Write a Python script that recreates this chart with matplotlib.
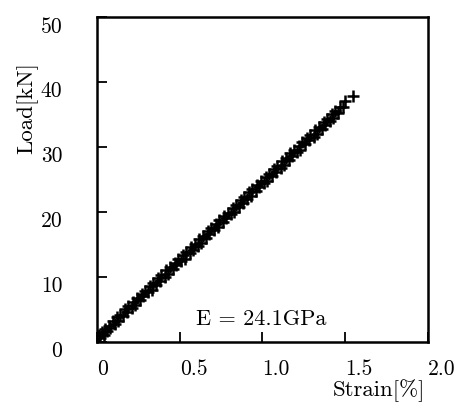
import matplotlib.pyplot as plt

plt.rcParams['font.family'] = 'serif'
plt.rcParams['font.serif'] = ['cmr10', 'DejaVu Serif']
plt.rcParams['axes.formatter.use_mathtext'] = True

strain = [0.00, 0.02, 0.04, 0.06, 0.08, 0.11, 0.13, 0.16, 0.18, 0.21,
          0.23, 0.26, 0.28, 0.31, 0.33, 0.36, 0.38, 0.41, 0.43, 0.46,
          0.48, 0.51, 0.53, 0.56, 0.58, 0.61, 0.63, 0.66, 0.68, 0.71,
          0.73, 0.76, 0.78, 0.81, 0.83, 0.86, 0.88, 0.91, 0.93, 0.96,
          0.98, 1.01, 1.03, 1.06, 1.08, 1.11, 1.13, 1.16, 1.18, 1.21,
          1.23, 1.26, 1.28, 1.31, 1.33, 1.36, 1.38, 1.41, 1.43, 1.46,
          1.49, 1.55]
load = [0.0, 0.6, 1.0, 1.6, 2.2, 2.8, 3.2, 4.0, 4.6, 5.2,
        5.6, 6.4, 7.0, 7.6, 8.0, 8.8, 9.4, 10.0, 10.4, 11.2,
        11.8, 12.4, 12.8, 13.6, 14.2, 14.8, 15.2, 16.0, 16.6, 17.2,
        17.6, 18.4, 19.0, 19.6, 20.0, 20.8, 21.4, 22.0, 22.4, 23.2,
        23.8, 24.4, 24.8, 25.6, 26.2, 26.8, 27.2, 28.0, 28.6, 29.2,
        29.6, 30.4, 31.0, 31.6, 32.0, 32.8, 33.4, 34.0, 34.4, 35.2,
        36.1, 37.8]

strain_b = [0.01, 0.03, 0.05, 0.07, 0.10, 0.12, 0.14, 0.17, 0.19, 0.22,
            0.24, 0.27, 0.29, 0.32, 0.34, 0.37, 0.39, 0.42, 0.44, 0.47,
            0.49, 0.52, 0.54, 0.57, 0.59, 0.62, 0.64, 0.67, 0.69, 0.72,
            0.74, 0.77, 0.79, 0.82, 0.84, 0.87, 0.89, 0.92, 0.94, 0.97,
            0.99, 1.02, 1.04, 1.07, 1.09, 1.12, 1.14, 1.17, 1.19, 1.22,
            1.24, 1.27, 1.29, 1.32, 1.34, 1.37, 1.39, 1.42, 1.44, 1.47,
            1.50]
load_b = [1.0, 1.5, 2.0, 2.5, 3.2, 3.8, 4.2, 5.0, 5.5, 6.2,
          6.7, 7.4, 7.9, 8.6, 9.1, 9.8, 10.3, 11.0, 11.5, 12.2,
          12.7, 13.4, 13.9, 14.6, 15.1, 15.8, 16.3, 17.0, 17.5, 18.2,
          18.7, 19.4, 19.9, 20.6, 21.1, 21.8, 22.3, 23.0, 23.5, 24.2,
          24.7, 25.4, 25.9, 26.6, 27.1, 27.8, 28.3, 29.0, 29.5, 30.2,
          30.7, 31.4, 31.9, 32.6, 33.1, 33.8, 34.3, 35.0, 35.5, 36.2,
          37.0]

x_ticks = [0, 0.5, 1.0, 1.5, 2.0]
x_labels = ['0', '0.5', '1.0', '1.5', '2.0']
y_ticks = [0, 10, 20, 30, 40, 50]

fig = plt.figure(figsize=(4.66, 4.05), dpi=100)
ax = fig.add_axes([0.208, 0.156, 0.71, 0.802])

ax.plot(strain, load, linestyle='none', marker='+', color='black',
        markersize=8, markeredgewidth=1.8)
ax.plot(strain_b, load_b, linestyle='none', marker='+', color='black',
        markersize=8, markeredgewidth=1.8)

ax.set_xlim(0, 2.0)
ax.set_ylim(0, 50)
ax.set_xticks(x_ticks)
ax.set_xticklabels(x_labels, ha='left')
ax.set_yticks(y_ticks)
ax.set_yticklabels([str(v) for v in y_ticks], va='top')

ax.tick_params(direction='in', length=7, width=1.3, labelsize=15.5)
ax.tick_params(axis='y', pad=25)
ax.tick_params(axis='x', pad=13)
for s in ax.spines.values():
    s.set_linewidth(1.8)

ax.text(0.60, 3.4, 'E = 24.1GPa', fontsize=16, va='center', ha='left')

fig.text(0.912, 0.035, 'Strain[%]', fontsize=16.5, ha='right', va='center')
fig.text(0.058, 0.733, 'Load[kN]', fontsize=16.5, ha='center', va='center',
         rotation=90)

plt.savefig('out.png', dpi=100)
